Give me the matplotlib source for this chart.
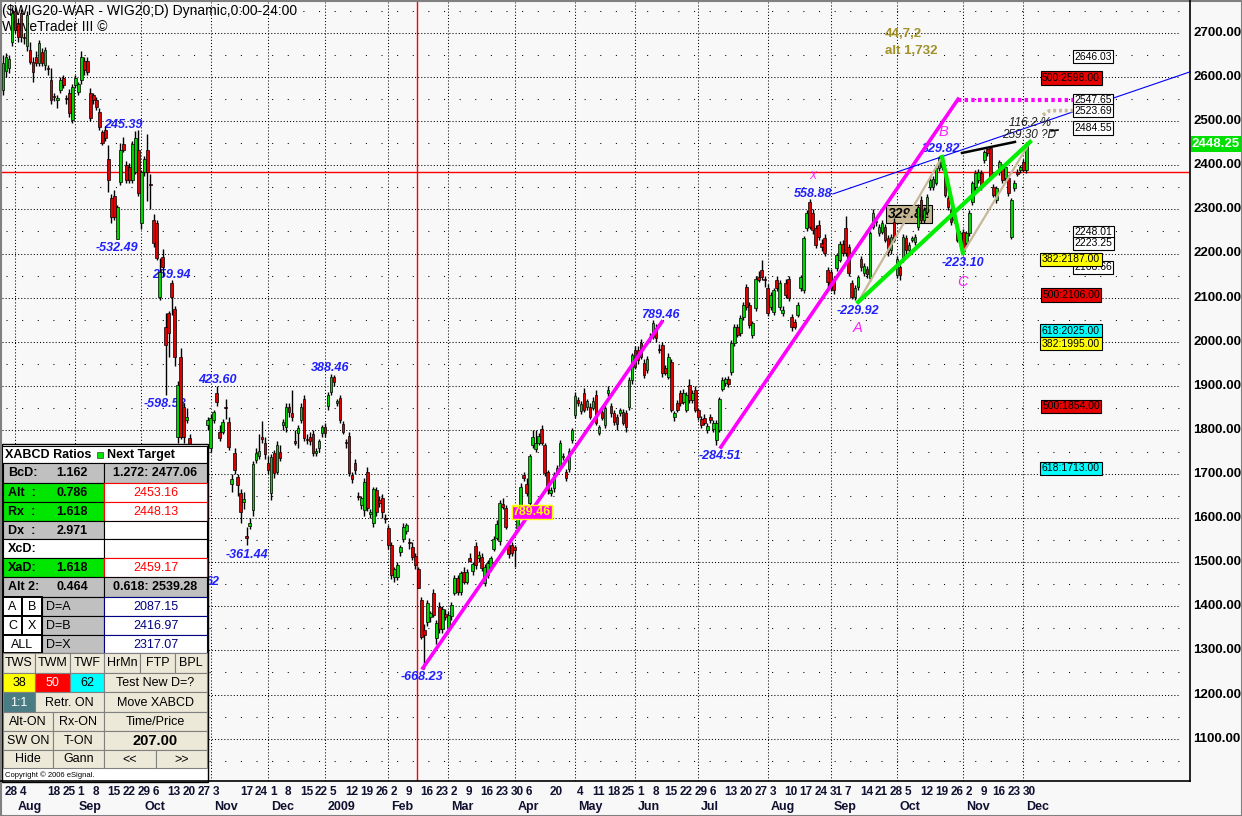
import numpy as np
import pandas as pd
import matplotlib
matplotlib.use("Agg")
import matplotlib.pyplot as plt
from matplotlib.patches import Rectangle

plt.rcParams["font.family"] = ["Liberation Sans", "DejaVu Sans"]

# ---------------------------------------------------------------- data
START, END = "2008-07-28", "2009-12-02"
HOLIDAYS = ["2008-08-15", "2008-11-11", "2008-12-24", "2008-12-25", "2008-12-26",
            "2008-12-31", "2009-01-01", "2009-04-10", "2009-04-13", "2009-05-01",
            "2009-06-11", "2009-11-11"]

opens = [
    2571, 2614, 2620, 2680, 2750, 2720, 2745, 2690, 2670, 2661,
    2634, 2645, 2632, 2657, 2627, 2620, 2593, 2557, 2547, 2571,
    2598, 2552, 2564, 2503, 2582, 2566, 2593, 2637, 2637, 2564,
    2560, 2548, 2521, 2476, 2480, 2414, 2326, 2330, 2233, 2362,
    2448, 2400, 2396, 2367, 2385, 2435, 2269, 2384, 2435, 2357,
    2276, 2269, 2101, 2192, 2033, 2065, 2133, 2074, 1784, 1965,
    1852, 1822, 1782, 1686, 1565, 1498, 1632, 1698, 1811, 1759,
    1822, 1884, 1795, 1795, 1852, 1818, 1677, 1747, 1693, 1657,
    1636, 1560, 1583, 1618, 1732, 1741, 1785, 1770, 1725, 1657,
    1747, 1705, 1750, 1811, 1807, 1852, 1838, 1775, 1793, 1822,
    1870, 1778, 1784, 1791, 1748, 1759, 1793, 1807, 1854, 1886,
    1920, 1860, 1872, 1813, 1772, 1786, 1698, 1725, 1650, 1630,
    1618, 1705, 1610, 1589, 1664, 1641, 1645, 1599, 1577, 1539,
    1466, 1466, 1523, 1553, 1571, 1545, 1534, 1514, 1485, 1414,
    1346, 1364, 1376, 1430, 1328, 1398, 1348, 1382, 1351, 1378,
    1430, 1464, 1432, 1478, 1455, 1510, 1480, 1536, 1509, 1512,
    1453, 1471, 1489, 1530, 1555, 1548, 1632, 1623, 1536, 1539,
    1534, 1577, 1625, 1698, 1677, 1634, 1766, 1757, 1771, 1802,
    1766, 1705, 1657, 1668, 1705, 1718, 1739, 1705, 1711, 1777,
    1834, 1868, 1843, 1884, 1852, 1852, 1850, 1879, 1793, 1841,
    1811, 1884, 1854, 1838, 1829, 1838, 1841, 1838, 1852, 1913,
    1981, 1981, 1997, 1952, 1936, 2010, 2010, 2031, 1983, 1993,
    1940, 1920, 1954, 1829, 1861, 1884, 1863, 1845, 1902, 1868,
    1890, 1845, 1825, 1827, 1800, 1829, 1802, 1777, 1800, 1893,
    1906, 1915, 1931, 1997, 2033, 2020, 2056, 2124, 2083, 2015,
    2076, 2147, 2162, 2141, 2121, 2079, 2067, 2140, 2079, 2065,
    2133, 2142, 2056, 2045, 2061, 2122, 2117, 2258, 2317, 2292,
    2258, 2265, 2224, 2235, 2162, 2158, 2140, 2167, 2185, 2222,
    2258, 2215, 2133, 2101, 2124, 2188, 2156, 2165, 2144, 2260,
    2273, 2247, 2249, 2260, 2235, 2208, 2272, 2151, 2169, 2185,
    2235, 2208, 2231, 2226, 2260, 2321, 2276, 2294, 2351, 2351,
    2360, 2394, 2412, 2385, 2326, 2299, 2276, 2249, 2224, 2249,
    2224, 2247, 2317, 2351, 2367, 2383, 2412, 2437, 2439, 2351,
    2321, 2385, 2396, 2371, 2371, 2237, 2349, 2385, 2389, 2407, 2389,
]
highs = [
    2650, 2655, 2650, 2760, 2760, 2735, 2755, 2700, 2750, 2680,
    2645, 2660, 2685, 2665, 2668, 2628, 2620, 2565, 2560, 2600,
    2605, 2560, 2572, 2585, 2604, 2590, 2660, 2645, 2645, 2575,
    2565, 2555, 2530, 2480, 2490, 2445, 2335, 2345, 2310, 2450,
    2465, 2410, 2405, 2455, 2478, 2480, 2390, 2420, 2470, 2380,
    2290, 2275, 2190, 2210, 2065, 2070, 2140, 2080, 1910, 1985,
    1860, 1850, 1790, 1695, 1600, 1580, 1650, 1760, 1830, 1835,
    1845, 1900, 1810, 1825, 1870, 1830, 1700, 1760, 1700, 1665,
    1660, 1580, 1600, 1730, 1760, 1790, 1820, 1785, 1740, 1745,
    1755, 1775, 1765, 1825, 1860, 1860, 1890, 1800, 1810, 1860,
    1880, 1790, 1795, 1800, 1760, 1780, 1812, 1815, 1885, 1926,
    1924, 1870, 1880, 1820, 1780, 1795, 1705, 1735, 1660, 1650,
    1690, 1715, 1620, 1670, 1670, 1650, 1655, 1610, 1585, 1545,
    1490, 1500, 1540, 1590, 1590, 1555, 1545, 1520, 1490, 1420,
    1360, 1415, 1390, 1440, 1370, 1410, 1400, 1395, 1390, 1410,
    1470, 1470, 1480, 1490, 1485, 1520, 1500, 1545, 1525, 1520,
    1495, 1505, 1515, 1560, 1595, 1640, 1645, 1630, 1545, 1545,
    1540, 1630, 1680, 1705, 1690, 1745, 1800, 1800, 1792, 1810,
    1770, 1710, 1670, 1705, 1720, 1778, 1748, 1712, 1758, 1805,
    1885, 1875, 1865, 1895, 1870, 1860, 1875, 1890, 1812, 1850,
    1856, 1900, 1862, 1845, 1835, 1850, 1848, 1845, 1920, 1975,
    1990, 1990, 2005, 1960, 1968, 2020, 2050, 2040, 1995, 2000,
    1948, 1975, 1960, 1842, 1868, 1890, 1892, 1885, 1915, 1890,
    1900, 1850, 1832, 1835, 1815, 1835, 1822, 1822, 1875, 1920,
    1920, 1922, 2003, 2040, 2040, 2060, 2090, 2130, 2090, 2048,
    2150, 2160, 2185, 2150, 2130, 2112, 2122, 2150, 2140, 2080,
    2142, 2150, 2062, 2052, 2090, 2152, 2240, 2298, 2324, 2300,
    2265, 2275, 2232, 2245, 2170, 2165, 2148, 2202, 2228, 2230,
    2285, 2222, 2140, 2128, 2152, 2195, 2178, 2172, 2252, 2300,
    2280, 2266, 2275, 2268, 2242, 2245, 2280, 2194, 2175, 2245,
    2242, 2225, 2240, 2245, 2312, 2330, 2305, 2335, 2375, 2375,
    2400, 2420, 2424, 2392, 2332, 2305, 2300, 2255, 2252, 2256,
    2252, 2298, 2365, 2390, 2392, 2390, 2435, 2440, 2442, 2358,
    2354, 2412, 2402, 2400, 2378, 2326, 2366, 2392, 2400, 2415, 2452,
]
lows = [
    2560, 2600, 2610, 2670, 2700, 2680, 2680, 2675, 2660, 2630,
    2590, 2625, 2625, 2625, 2615, 2605, 2540, 2545, 2530, 2565,
    2575, 2540, 2510, 2495, 2575, 2560, 2585, 2605, 2605, 2500,
    2540, 2525, 2480, 2445, 2455, 2340, 2270, 2275, 2233, 2355,
    2430, 2360, 2360, 2360, 2380, 2330, 2255, 2375, 2318, 2300,
    2215, 2185, 2095, 2150, 1880, 1965, 2060, 1945, 1770, 1780,
    1770, 1815, 1680, 1610, 1510, 1476, 1600, 1690, 1800, 1750,
    1815, 1855, 1775, 1790, 1825, 1755, 1660, 1700, 1650, 1590,
    1620, 1538, 1575, 1605, 1725, 1735, 1770, 1735, 1700, 1640,
    1690, 1700, 1730, 1800, 1795, 1830, 1820, 1765, 1760, 1815,
    1775, 1768, 1765, 1740, 1740, 1750, 1785, 1785, 1845, 1880,
    1900, 1855, 1815, 1790, 1760, 1695, 1680, 1700, 1640, 1620,
    1605, 1615, 1600, 1580, 1605, 1625, 1600, 1590, 1530, 1462,
    1455, 1460, 1515, 1545, 1565, 1530, 1505, 1485, 1441, 1325,
    1258, 1355, 1365, 1375, 1315, 1340, 1340, 1370, 1345, 1370,
    1425, 1425, 1425, 1450, 1450, 1500, 1470, 1485, 1500, 1480,
    1445, 1465, 1480, 1525, 1550, 1540, 1620, 1575, 1510, 1515,
    1490, 1570, 1620, 1685, 1650, 1630, 1760, 1750, 1765, 1765,
    1695, 1655, 1650, 1660, 1700, 1710, 1732, 1685, 1705, 1770,
    1828, 1855, 1835, 1840, 1845, 1825, 1845, 1810, 1788, 1822,
    1805, 1878, 1830, 1812, 1800, 1832, 1810, 1795, 1845, 1905,
    1938, 1950, 1960, 1918, 1930, 2000, 2005, 2000, 1975, 1920,
    1925, 1915, 1840, 1820, 1840, 1855, 1858, 1840, 1860, 1862,
    1840, 1822, 1805, 1810, 1792, 1815, 1795, 1765, 1795, 1888,
    1900, 1898, 1925, 1990, 2010, 2012, 2050, 2072, 2030, 2008,
    2070, 2135, 2140, 2125, 2058, 2072, 2060, 2115, 2072, 2058,
    2100, 2092, 2025, 2028, 2055, 2115, 2110, 2250, 2255, 2245,
    2212, 2230, 2205, 2195, 2117, 2115, 2108, 2160, 2180, 2195,
    2195, 2150, 2096, 2094, 2118, 2160, 2150, 2145, 2138, 2255,
    2262, 2240, 2244, 2225, 2195, 2200, 2225, 2144, 2140, 2180,
    2200, 2200, 2225, 2220, 2254, 2270, 2270, 2288, 2345, 2345,
    2355, 2388, 2390, 2328, 2298, 2265, 2270, 2225, 2218, 2201,
    2215, 2240, 2310, 2345, 2360, 2345, 2405, 2420, 2368, 2328,
    2314, 2378, 2360, 2365, 2330, 2232, 2342, 2375, 2382, 2385, 2383,
]
closes = [
    2632, 2646, 2642, 2745, 2707, 2690, 2690, 2688, 2740, 2634,
    2612, 2633, 2677, 2632, 2661, 2618, 2548, 2554, 2553, 2593,
    2582, 2550, 2519, 2577, 2598, 2584, 2646, 2616, 2612, 2507,
    2548, 2532, 2487, 2451, 2462, 2367, 2283, 2283, 2305, 2435,
    2435, 2367, 2367, 2448, 2462, 2337, 2385, 2414, 2384, 2355,
    2224, 2190, 2158, 2169, 1992, 2020, 2101, 1965, 1902, 1784,
    1784, 1830, 1686, 1619, 1560, 1573, 1635, 1750, 1822, 1827,
    1840, 1863, 1782, 1818, 1850, 1761, 1689, 1709, 1675, 1614,
    1643, 1555, 1588, 1722, 1748, 1752, 1780, 1745, 1709, 1739,
    1702, 1766, 1736, 1818, 1852, 1840, 1829, 1770, 1804, 1852,
    1782, 1777, 1775, 1748, 1752, 1775, 1807, 1793, 1879, 1920,
    1909, 1865, 1822, 1795, 1770, 1702, 1689, 1709, 1648, 1645,
    1682, 1623, 1614, 1666, 1614, 1634, 1614, 1598, 1539, 1471,
    1484, 1493, 1534, 1580, 1584, 1543, 1511, 1493, 1441, 1330,
    1335, 1407, 1385, 1380, 1362, 1348, 1394, 1375, 1380, 1403,
    1464, 1432, 1475, 1455, 1478, 1503, 1496, 1493, 1516, 1487,
    1489, 1498, 1509, 1553, 1587, 1634, 1625, 1580, 1518, 1521,
    1527, 1625, 1670, 1691, 1657, 1741, 1784, 1771, 1786, 1771,
    1702, 1664, 1664, 1698, 1714, 1770, 1741, 1691, 1752, 1800,
    1877, 1861, 1859, 1845, 1866, 1829, 1866, 1816, 1807, 1827,
    1850, 1890, 1838, 1818, 1813, 1845, 1816, 1807, 1913, 1969,
    1943, 1958, 1965, 1925, 1961, 2009, 2042, 2009, 1981, 1929,
    1929, 1965, 1845, 1838, 1845, 1861, 1884, 1879, 1868, 1884,
    1845, 1829, 1811, 1816, 1809, 1822, 1816, 1816, 1870, 1913,
    1915, 1904, 1997, 2033, 2015, 2054, 2083, 2079, 2038, 2042,
    2142, 2140, 2147, 2140, 2065, 2106, 2117, 2121, 2133, 2072,
    2106, 2099, 2033, 2033, 2083, 2147, 2235, 2292, 2260, 2253,
    2219, 2238, 2215, 2201, 2135, 2122, 2117, 2197, 2222, 2201,
    2201, 2156, 2101, 2122, 2147, 2169, 2172, 2153, 2247, 2292,
    2272, 2260, 2269, 2231, 2203, 2238, 2231, 2188, 2151, 2238,
    2208, 2219, 2235, 2238, 2305, 2276, 2299, 2328, 2367, 2369,
    2394, 2417, 2396, 2333, 2305, 2271, 2294, 2231, 2247, 2205,
    2247, 2292, 2360, 2383, 2385, 2351, 2430, 2428, 2373, 2333,
    2349, 2407, 2367, 2396, 2337, 2321, 2360, 2380, 2396, 2389, 2448.25,
]
LAST_PRICE = 2448.25
CURSOR_PRICE = 2385

# weekly date labels on the axis and month captions
DAY_TICKS = ["2008-07-28", "2008-08-04", "2008-08-18", "2008-08-25", "2008-09-01",
             "2008-09-08", "2008-09-15", "2008-09-22", "2008-09-29", "2008-10-06",
             "2008-10-13", "2008-10-20", "2008-10-27", "2008-11-03", "2008-11-17",
             "2008-11-24", "2008-12-01", "2008-12-08", "2008-12-15", "2008-12-22",
             "2009-01-05", "2009-01-12", "2009-01-19", "2009-01-26", "2009-02-02",
             "2009-02-09", "2009-02-16", "2009-02-23", "2009-03-02", "2009-03-09",
             "2009-03-16", "2009-03-23", "2009-03-30", "2009-04-06", "2009-04-20",
             "2009-05-04", "2009-05-11", "2009-05-18", "2009-05-25", "2009-06-01",
             "2009-06-08", "2009-06-15", "2009-06-22", "2009-06-29", "2009-07-06",
             "2009-07-13", "2009-07-20", "2009-07-27", "2009-08-03", "2009-08-10",
             "2009-08-17", "2009-08-24", "2009-08-31", "2009-09-07", "2009-09-14",
             "2009-09-21", "2009-09-28", "2009-10-05", "2009-10-12", "2009-10-19",
             "2009-10-26", "2009-11-02", "2009-11-09", "2009-11-16", "2009-11-23",
             "2009-11-30"]
MONTH_NAMES = ["Aug", "Sep", "Oct", "Nov", "Dec", "2009", "Feb", "Mar", "Apr", "May",
               "Jun", "Jul", "Aug", "Sep", "Oct", "Nov", "Dec"]

# pattern drawing: (bar index, price) of each line
MAG1_X, MAG1_Y = [139.5, 218.9], [1260, 2045]
MAG2_X, MAG2_Y = [238.5, 317.3], [1761, 2550]
MAGDOT_X, MAGDOT_Y = [317.3, 355.5], [2547.65, 2547.65]
BLUE_X, BLUE_Y = [275.7, 394.4], [2335, 2612]
BLACK_X, BLACK_Y = [318.6, 336.2], [2428, 2453]
GREEN_AD_X, GREEN_AD_Y = [284.1, 341.2], [2090, 2453]
GREEN_BC_X, GREEN_BC_Y = [312.0, 318.9], [2419, 2201]
TAN_AB_X, TAN_AB_Y = [284.1, 312.0], [2090, 2419]
TAN_CD_X, TAN_CD_Y = [318.9, 341.2], [2201, 2453]
TANDOT_X, TANDOT_Y = [345.5, 347.8, 355.5], [2514, 2524, 2524]

# price boxes at the right
TARGETS = [2646.03, 2547.65, 2523.69, 2484.55, 2248.01, 2223.25, 2168.66]
FIB_RATIO = [500, 382, 500, 618, 382, 500, 618]
FIB_PRICE = [2598.00, 2187.00, 2106.00, 2025.00, 1995.00, 1854.00, 1713.00]
FIB_COLORS = {382: "#ffff00", 500: "#e60000", 618: "#00ffff"}

# ---------------------------------------------------------------- layout helpers
W, H = 1242, 816


def xd(px):
    return (px - 3.0) / 3.01


def yd(py):
    return 2700 - (py - 33.0) / 0.441


days = pd.bdate_range(START, END)
days = days[~days.isin(pd.to_datetime(HOLIDAYS))][:len(closes)]
pos = pd.Series(np.arange(len(days)), index=days)
month_first = pos.groupby([days.year, days.month]).min().values[1:]

fig = plt.figure(figsize=(W / 100, H / 100), dpi=100, facecolor="#f8f8f8")
ax = fig.add_axes([2 / W, (H - 781) / H, 1188 / W, 779 / H])
ax.set_facecolor("#f8f8f8")
ax.set_xlim(xd(2), xd(1190))
ax.set_ylim(yd(781), yd(2))
ax.set_xticks([])
ax.set_yticks([])
for s in ax.spines.values():
    s.set_visible(False)

# grid
for lvl in range(1100, 2701, 100):
    ax.plot([xd(2), xd(1180)], [lvl, lvl], color="black", lw=0.75,
            ls=(0, (1, 2)), zorder=0.5)
for lvl in range(1050, 2751, 100):
    ax.plot([xd(6), xd(1180)], [lvl, lvl], color="black", lw=0.75,
            ls=(0, (1, 14)), zorder=0.5)
for i in month_first:
    ax.axvline(i, color="black", lw=0.75, ls=(0, (1, 2)), zorder=0.5)

ax.axhline(CURSOR_PRICE, color="#ff0000", lw=1.0, zorder=1)
ax.axvline(137.6, color="#ff0000", lw=1.0, zorder=1)

# title
ax.text(xd(2), yd(11), "($WIG20-WAR - WIG20;D) Dynamic,0:00-24:00", fontsize=10,
        ha="left", va="center", zorder=1)
ax.text(xd(2), yd(27), "WaveTrader III \u00a9", fontsize=10, ha="left", va="center",
        zorder=1)

# swing labels
swing = [("245.39", 123, 125), ("-532.49", 117, 248), ("259.94", 171, 275),
         ("-598.58", 165, 404), ("423.60", 217, 380), ("388.46", 330, 368),
         ("-361.44", 247, 555), ("62", 212, 582), ("-668.23", 422, 677),
         ("789.46", 660, 315), ("-284.51", 720, 456), ("558.88", 813, 194),
         ("-229.92", 858, 311), ("329.82", 941, 149), ("-223.10", 963, 263)]
for t, px, py in swing:
    ax.text(xd(px), yd(py), t, color="#2020ff", fontsize=9, style="italic",
            fontweight="bold", ha="center", va="center", zorder=2)

ax.text(xd(909), yd(214), "329.82", fontsize=10, style="italic", fontweight="bold",
        ha="center", va="center", zorder=3,
        bbox=dict(boxstyle="square,pad=0.12", fc="#c8b894", ec="black", lw=0.8))

# candles
o = np.array(opens, float)
h = np.array(highs, float)
l = np.array(lows, float)
c = np.array(closes, float)
idx = np.arange(len(c))
up = c >= o
lo = np.minimum(o, c)
ht = np.maximum(np.abs(c - o), 2.0)
ax.vlines(idx, l, h, color="black", lw=1.0, zorder=4)
ax.bar(idx[up], ht[up], bottom=lo[up], width=0.88, color="#00d400",
       edgecolor="black", linewidth=0.5, zorder=5)
ax.bar(idx[~up], ht[~up], bottom=lo[~up], width=0.88, color="#dd0000",
       edgecolor="black", linewidth=0.5, zorder=5)

# pattern lines
ax.plot(MAG1_X, MAG1_Y, color="#ff00ff", lw=2.6, zorder=6)
ax.plot(MAG2_X, MAG2_Y, color="#ff00ff", lw=2.6, zorder=6)
ax.plot(MAGDOT_X, MAGDOT_Y, color="#ff00ff", lw=3.0, ls=(0, (0.8, 0.8)), zorder=6)
ax.plot(BLUE_X, BLUE_Y, color="#0000ff", lw=0.8, zorder=6, clip_on=False)
ax.plot(BLACK_X, BLACK_Y, color="black", lw=1.8, zorder=6)
ax.plot([348.2, 350.5], [2478, 2480], color="black", lw=1.2, zorder=6)
ax.plot(TAN_AB_X, TAN_AB_Y, color="#c8b89a", lw=1.6, zorder=6)
ax.plot(TAN_CD_X, TAN_CD_Y, color="#c8b89a", lw=1.6, zorder=6)
ax.plot(GREEN_AD_X, GREEN_AD_Y, color="#00ee00", lw=3.0, zorder=6.5)
ax.plot(GREEN_BC_X, GREEN_BC_Y, color="#00ee00", lw=3.0, zorder=6.5)
ax.plot(TANDOT_X, TANDOT_Y, color="#c8b89a", lw=2.6, ls=(0, (0.8, 0.8)), zorder=6)

for t, px, py in [("B", 943, 132), ("A", 858, 328), ("C", 963, 282)]:
    ax.text(xd(px), yd(py), t, color="#ff20ff", fontsize=10.5, style="italic",
            ha="center", va="center", zorder=7)
ax.text(xd(813), yd(176), "X", color="#ff20ff", fontsize=7.5, style="italic",
        ha="center", va="center", zorder=7)
ax.text(xd(885), yd(34), "44,7,2", color="#a09028", fontsize=9.5, fontweight="bold",
        ha="left", va="center", zorder=7)
ax.text(xd(885), yd(51), "alt 1,732", color="#a09028", fontsize=9.5, fontweight="bold",
        ha="left", va="center", zorder=7)
ax.text(xd(1030), yd(123), "116.2 %", fontsize=8.5, style="italic", color="#202020",
        ha="center", va="center", zorder=7)
ax.text(xd(1029), yd(135), "259.30 ?D", fontsize=8.5, style="italic", color="#202020",
        ha="center", va="center", zorder=7)
ax.text(xd(532), yd(512), "789.46", fontsize=9, fontweight="bold", color="#ffff00",
        ha="center", va="center", zorder=7,
        bbox=dict(boxstyle="square,pad=0.1", fc="#ff00ff", ec="#ffff00", lw=1))

# right side price boxes
for v in TARGETS:
    ax.text(xd(1093), v, f"{v:.2f}", fontsize=7.5, ha="center", va="center", zorder=8,
            bbox=dict(boxstyle="square,pad=0.15", fc="white", ec="black", lw=0.8))
for r, v in zip(FIB_RATIO, FIB_PRICE):
    ax.text(xd(1071), v, f"{r}:{v:.2f}", fontsize=7.5, ha="center", va="center",
            zorder=9, bbox=dict(boxstyle="square,pad=0.15", fc=FIB_COLORS[r],
                                ec="black", lw=0.8))

# ---------------------------------------------------------------- overlay (pixel coords)
ov = fig.add_axes([0, 0, 1, 1], zorder=10)
ov.set_xlim(0, W)
ov.set_ylim(H, 0)
ov.axis("off")
ov.patch.set_alpha(0)

ov.plot([1190, 1190], [0, 781], color="black", lw=1.2)
ov.plot([0, 1190], [781, 781], color="black", lw=1.2)
for lvl in range(1100, 2701, 100):
    ov.text(1193, 33 + (2700 - lvl) * 0.441, f"{lvl:.2f}", fontsize=9.5,
            fontweight="bold", ha="left", va="center")
ly = 33 + (2700 - LAST_PRICE) * 0.441
ov.add_patch(Rectangle((1191, ly - 8), 50, 16, fc="#00e000", ec="none"))
ov.text(1216, ly, f"{LAST_PRICE:.2f}", fontsize=9.5, fontweight="bold", color="white",
        ha="center", va="center")

# x axis labels
for d in DAY_TICKS:
    i = pos[pd.Timestamp(d)]
    ov.text(3 + 3.01 * i + 2, 792, str(pd.Timestamp(d).day), fontsize=8.5,
            fontweight="bold", ha="left", va="center", color="#101030")
for name, i in zip(MONTH_NAMES, month_first):
    ov.text(3 + 3.01 * i + 3, 807, name, fontsize=9, fontweight="bold",
            ha="left", va="center", color="#101030")


# ---------------------------------------------------------------- left panel
def cell(x0, y0, x1, y1, text="", fc="white", ec="black", tc="black", size=8.5,
         weight="bold", ha="center", tx=None, lw=0.8):
    ov.add_patch(Rectangle((x0, y0), x1 - x0, y1 - y0, fc=fc, ec=ec, lw=lw))
    if text:
        xx = (x0 + x1) / 2 if tx is None else tx
        ov.text(xx, (y0 + y1) / 2 + 0.5, text, color=tc, fontsize=size,
                fontweight=weight, ha=ha, va="center")


GRAY, GREEN, BTN = "#c0c0c0", "#00e600", "#ece9d8"
ov.add_patch(Rectangle((2, 444), 206, 338, fc="white", ec="black", lw=1))
cell(2, 446, 207, 463)
ov.text(5, 455, "XABCD Ratios", fontsize=9, fontweight="bold", va="center")
ov.add_patch(Rectangle((97, 452), 6, 6, fc=GREEN, ec="#404040", lw=0.5))
ov.text(107, 455, "Next Target", fontsize=9, fontweight="bold", va="center")

rows = [("BcD:", "1.162", GRAY, "1.272: 2477.06", GRAY, "black", "black"),
        ("Alt  :", "0.786", GREEN, "2453.16", "white", "#ff0000", "#ff0000"),
        ("Rx  :", "1.618", GREEN, "2448.13", "white", "#ff0000", "#ff0000"),
        ("Dx  :", "2.971", GRAY, "", "white", "black", "black"),
        ("XcD:", "", "white", "", "white", "black", "black"),
        ("XaD:", "1.618", GREEN, "2459.17", "white", "#ff0000", "#ff0000"),
        ("Alt 2:", "0.464", GRAY, "0.618: 2539.28", GRAY, "black", "black")]
edges = [463, 483, 502, 521, 539, 558, 577, 597]
for k, (lab, val, lfc, rt, rfc, rec, rtc) in enumerate(rows):
    y0, y1 = edges[k], edges[k + 1]
    cell(3, y0, 104, y1, fc=lfc)
    ov.text(8, (y0 + y1) / 2 + 0.5, lab, fontsize=9, fontweight="bold", va="center")
    ov.text(72, (y0 + y1) / 2 + 0.5, val, fontsize=9, fontweight="bold",
            va="center", ha="center")
    cell(104, y0, 207, y1, rt, fc=rfc, ec=rec, tc=rtc, size=9,
         weight="bold" if rfc == GRAY else "normal")

for (a, b, lab, val), (y0, y1) in zip(
        [("A", "B", "D=A", "2087.15"), ("C", "X", "D=B", "2416.97"),
         ("ALL", None, "D=X", "2317.07")],
        [(597, 616), (616, 635), (635, 653)]):
    if b is None:
        cell(3, y0, 42, y1, a, size=9, weight="normal", lw=1.4)
    else:
        cell(3, y0, 22, y1, a, size=9, weight="normal", lw=1.4)
        cell(22, y0, 42, y1, b, size=9, weight="normal", lw=1.4)
    cell(42, y0, 104, y1, fc=GRAY)
    ov.text(46, (y0 + y1) / 2 + 0.5, lab, fontsize=9, va="center")
    cell(104, y0, 207, y1, val, ec="#000080", tc="#000080", size=9, weight="normal")

buttons = [
    (653, 673, [(3, 35, "TWS", BTN, "black"), (35, 70, "TWM", BTN, "black"),
                (70, 104, "TWF", BTN, "black"), (104, 140, "HrMn", BTN, "black"),
                (140, 175, "FTP", BTN, "black"), (175, 207, "BPL", BTN, "black")]),
    (673, 692, [(3, 35, "38", "#ffff00", "black"), (35, 70, "50", "#ff0000", "white"),
                (70, 104, "62", "#00ffff", "black"),
                (104, 207, "Test New D=?", BTN, "black")]),
    (692, 712, [(3, 35, "1:1", "#4a7c84", "white"), (35, 104, "Retr. ON", BTN, "black"),
                (104, 207, "Move XABCD", BTN, "black")]),
    (712, 731, [(3, 53, "Alt-ON", BTN, "black"), (53, 104, "Rx-ON", BTN, "black"),
                (104, 207, "Time/Price", BTN, "black")]),
    (731, 750, [(3, 53, "SW ON", BTN, "black"), (53, 104, "T-ON", BTN, "black"),
                (104, 207, "207.00", BTN, "black")]),
    (750, 768, [(3, 53, "Hide", BTN, "black"), (53, 104, "Gann", BTN, "black"),
                (104, 156, "<<", BTN, "black"), (156, 207, ">>", BTN, "black")]),
]
for y0, y1, items in buttons:
    for x0, x1, t, fc, tc in items:
        big = t == "207.00"
        cell(x0, y0, x1, y1, t, fc=fc, ec="#808080", tc=tc,
             size=10.5 if big else 9, weight="bold" if big else "normal")
ov.text(5, 775, "Copyright \u00a9 2006 eSignal.", fontsize=5.5, va="center")

ov.add_patch(Rectangle((0.5, 0.5), W - 1, H - 1, fc="none", ec="#808080", lw=1.5))

fig.savefig("out.png", dpi=100, facecolor=fig.get_facecolor())
